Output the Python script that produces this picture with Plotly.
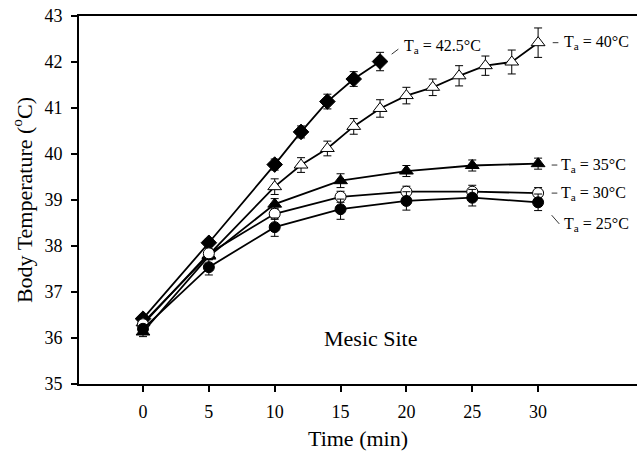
import plotly.graph_objects as go

# ---- data ----
t_425 = [0, 5, 10, 12, 14, 16, 18]
y_425 = [36.42, 38.07, 39.77, 40.48, 41.14, 41.63, 42.01]
e_425 = [0.08, 0.08, 0.12, 0.13, 0.16, 0.16, 0.2]

t_40 = [0, 5, 10, 12, 14, 16, 18, 20, 22, 24, 26, 28, 30]
y_40 = [36.33, 37.80, 39.29, 39.76, 40.12, 40.60, 40.99, 41.27, 41.45, 41.70, 41.92, 42.00, 42.42]
e_40 = [0.08, 0.08, 0.17, 0.16, 0.16, 0.17, 0.19, 0.18, 0.18, 0.22, 0.21, 0.26, 0.32]

t_35 = [0, 5, 10, 15, 20, 25, 30]
y_35 = [36.13, 37.78, 38.91, 39.42, 39.63, 39.75, 39.79]
e_35 = [0.1, 0.08, 0.12, 0.15, 0.12, 0.12, 0.12]

t_30 = [0, 5, 10, 15, 20, 25, 30]
y_30 = [36.30, 37.84, 38.70, 39.07, 39.18, 39.18, 39.15]
e_30 = [0.08, 0.1, 0.12, 0.12, 0.12, 0.14, 0.12]

t_25 = [0, 5, 10, 15, 20, 25, 30]
y_25 = [36.20, 37.54, 38.41, 38.80, 38.98, 39.05, 38.95]
e_25 = [0.08, 0.17, 0.2, 0.22, 0.2, 0.18, 0.18]

x_ticks = [0, 5, 10, 15, 20, 25, 30]
y_ticks = [35, 36, 37, 38, 39, 40, 41, 42, 43]

series = [
    ("T<sub>a</sub> = 42.5°C", t_425, y_425, e_425, "diamond", 12, "black"),
    ("T<sub>a</sub> = 40°C", t_40, y_40, e_40, "triangle-up", 12, "white"),
    ("T<sub>a</sub> = 35°C", t_35, y_35, e_35, "triangle-up", 12, "black"),
    ("T<sub>a</sub> = 30°C", t_30, y_30, e_30, "circle", 11, "white"),
    ("T<sub>a</sub> = 25°C", t_25, y_25, e_25, "circle", 11, "black"),
]

FONT = "Liberation Serif"
fig = go.Figure()
for name, t, y, e, sym, sz, fill in series:
    fig.add_trace(go.Scatter(
        x=t, y=y, name=name, mode="lines+markers",
        line=dict(color="black", width=1.8),
        marker=dict(symbol=sym, size=sz, color=fill,
                    line=dict(color="black", width=1)),
        error_y=dict(type="data", array=e, visible=True,
                     color="black", thickness=1, width=4),
        showlegend=False,
    ))

# labels with leader lines
labels = [
    ("T<sub>a</sub> = 42.5°C", 19.64, 42.33, (18.88, 42.17, 19.39, 42.28)),
    ("T<sub>a</sub> = 40°C", 31.79, 42.42, (31.11, 42.42, 31.54, 42.42)),
    ("T<sub>a</sub> = 35°C", 31.62, 39.76, (31.03, 39.76, 31.46, 39.76)),
    ("T<sub>a</sub> = 30°C", 31.62, 39.15, (31.03, 39.15, 31.46, 39.15)),
    ("T<sub>a</sub> = 25°C", 31.79, 38.46, (31.03, 38.67, 31.61, 38.48)),
]
for txt, lx, ly, (x0, y0, x1, y1) in labels:
    fig.add_annotation(x=lx, y=ly, text=txt, showarrow=False,
                       xanchor="left", yanchor="middle",
                       font=dict(family=FONT, size=16, color="black"))
    fig.add_shape(type="line", x0=x0, y0=y0, x1=x1, y1=y1,
                  line=dict(color="black", width=0.8))

fig.add_annotation(x=17.3, y=35.98, text="Mesic Site", showarrow=False,
                   xanchor="center", yanchor="middle",
                   font=dict(family=FONT, size=22, color="black"))

fig.update_layout(
    width=637, height=460,
    margin=dict(l=79, r=0, t=16, b=76),
    paper_bgcolor="white", plot_bgcolor="white",
    font=dict(family=FONT, color="black"),
    xaxis=dict(range=[-4.86, 37.51], tickvals=x_ticks,
               ticks="outside", ticklen=6, tickwidth=1.5, tickcolor="black",
               showline=True, linecolor="black", linewidth=2, mirror=True,
               showgrid=False, zeroline=False, ticklabelstandoff=4,
               tickfont=dict(family=FONT, size=18),
               title=dict(text="Time (min)", font=dict(family=FONT, size=22), standoff=10)),
    yaxis=dict(range=[35, 43], tickvals=y_ticks,
               ticks="outside", ticklen=6, tickwidth=1.5, tickcolor="black",
               showline=True, linecolor="black", linewidth=2, mirror=False,
               showgrid=False, zeroline=False, ticklabelstandoff=5,
               tickfont=dict(family=FONT, size=18),
               title=dict(text="Body Temperature (<sup>o</sup>C)", font=dict(family=FONT, size=22), standoff=6)),
)

fig.write_html("out.html")
